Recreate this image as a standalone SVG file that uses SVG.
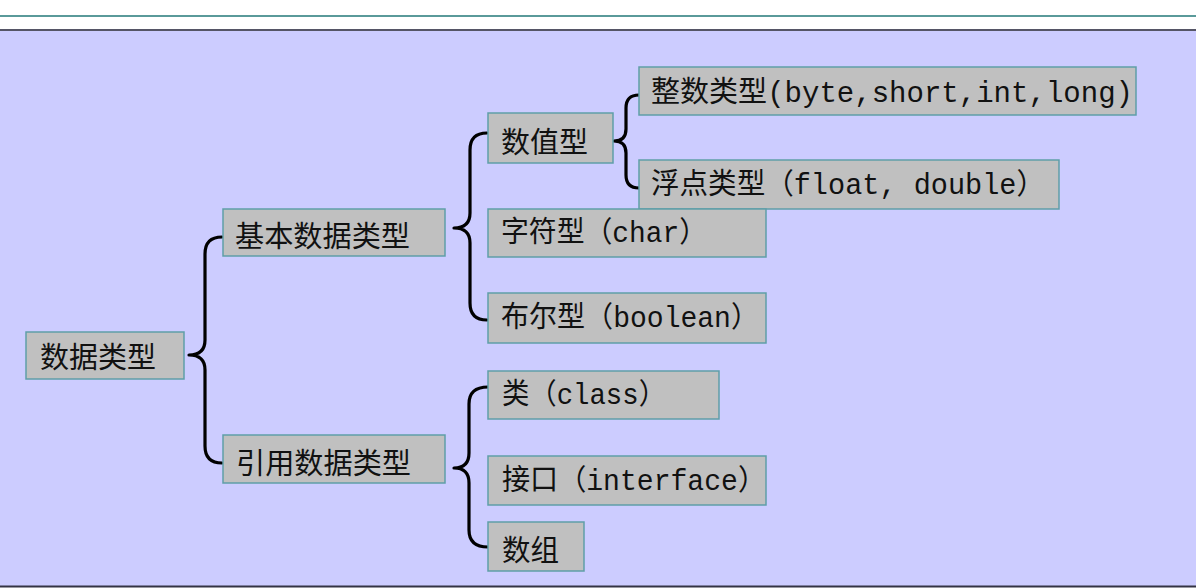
<svg xmlns="http://www.w3.org/2000/svg" width="1196" height="588" viewBox="0 0 1196 588">
<style>
.box{fill:#c0c0c0;stroke:#5f9ea8;stroke-width:1.5}
.t{font-family:"Liberation Mono","Noto Sans CJK SC",monospace;font-size:29px;fill:#111}
.br{fill:none;stroke:#000;stroke-width:3.2;stroke-linecap:round;stroke-linejoin:round}
</style>
<rect x="0" y="0" width="1196" height="588" fill="#ffffff"/>
<line x1="0" y1="16" x2="1196" y2="16" stroke="#5a9a9a" stroke-width="2"/>
<rect x="0" y="31" width="1196" height="555" fill="#ccccff"/>
<line x1="0" y1="30" x2="1196" y2="30" stroke="#555566" stroke-width="2"/>
<line x1="0" y1="586.5" x2="1196" y2="586.5" stroke="#333344" stroke-width="2"/>
<g id="connectors">
<path class="br" d="M222,237 Q205,237 205,254 L205,340 Q205,355 189,355 Q205,355 205,370 L205,446 Q205,463 222,463"/>
<path class="br" d="M487,133 Q470,133 470,150 L470,213 Q470,228 454,228 Q470,228 470,243 L470,303 Q470,320 487,320"/>
<path class="br" d="M639,95 Q626,95 626,108 L626,129 Q626,141 614,141 Q626,141 626,153 L626,175 Q626,188 639,188"/>
<path class="br" d="M488,387 Q469,387 469,404 L469,453 Q469,468 454,468 Q469,468 469,483 L469,530 Q469,547 488,547"/>
</g>
<g id="n-root"><rect class="box" x="26" y="332" width="158" height="47"/><text class="t" x="40" y="368" textLength="116" lengthAdjust="spacingAndGlyphs">数据类型</text></g>
<g id="n-basic"><rect class="box" x="223" y="209" width="222" height="47"/><text class="t" x="235" y="247" textLength="175" lengthAdjust="spacingAndGlyphs">基本数据类型</text></g>
<g id="n-ref"><rect class="box" x="223" y="435" width="222" height="48"/><text class="t" x="236" y="474" textLength="175" lengthAdjust="spacingAndGlyphs">引用数据类型</text></g>
<g id="n-num"><rect class="box" x="488" y="113" width="125" height="50"/><text class="t" x="501" y="153" textLength="87" lengthAdjust="spacingAndGlyphs">数值型</text></g>
<g id="n-int"><rect class="box" x="639" y="67" width="497" height="48"/><text class="t" x="651" y="102" textLength="482" lengthAdjust="spacingAndGlyphs">整数类型(byte,short,int,long)</text></g>
<g id="n-float"><rect class="box" x="639" y="160" width="420" height="49"/><text class="t" x="651" y="194" textLength="394" lengthAdjust="spacingAndGlyphs">浮点类型（float, double）</text></g>
<g id="n-char"><rect class="box" x="488" y="209" width="278" height="48"/><text class="t" x="501" y="242" textLength="206" lengthAdjust="spacingAndGlyphs">字符型（char）</text></g>
<g id="n-bool"><rect class="box" x="488" y="293" width="278" height="50"/><text class="t" x="501" y="327" textLength="258" lengthAdjust="spacingAndGlyphs">布尔型（boolean）</text></g>
<g id="n-class"><rect class="box" x="488" y="371" width="231" height="48"/><text class="t" x="502" y="404" textLength="164" lengthAdjust="spacingAndGlyphs">类（class）</text></g>
<g id="n-iface"><rect class="box" x="488" y="456" width="278" height="49"/><text class="t" x="502" y="490" textLength="264" lengthAdjust="spacingAndGlyphs">接口（interface）</text></g>
<g id="n-array"><rect class="box" x="488" y="522" width="96" height="49"/><text class="t" x="502" y="561" textLength="57" lengthAdjust="spacingAndGlyphs">数组</text></g>
</svg>
